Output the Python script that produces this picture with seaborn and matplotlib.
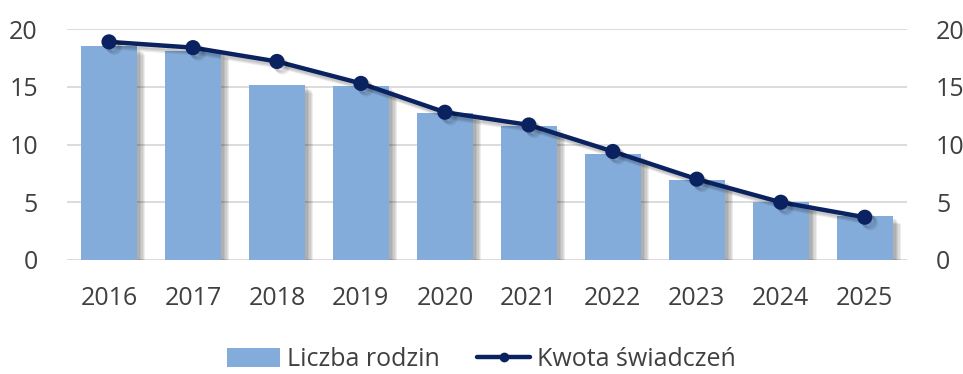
import matplotlib
matplotlib.use("Agg")
import matplotlib.pyplot as plt
import matplotlib.patheffects as pe
from matplotlib.patches import Patch
from matplotlib.lines import Line2D
import seaborn as sns
import pandas as pd

years = ["2016", "2017", "2018", "2019", "2020", "2021", "2022", "2023", "2024", "2025"]
liczba_rodzin = [18.5, 18.1, 15.2, 15.1, 12.7, 11.6, 9.2, 6.9, 5.0, 3.8]
kwota_swiadczen = [18.9, 18.4, 17.2, 15.3, 12.8, 11.7, 9.4, 7.0, 5.0, 3.7]
y_ticks = [0, 5, 10, 15, 20]

bar_color = "#84ACDB"
line_color = "#0B2260"
text_color = "#404040"

sns.set_theme(style="white")
plt.rcParams["font.family"] = ["Open Sans", "DejaVu Sans"]

df = pd.DataFrame({"rok": years, "rodziny": liczba_rodzin, "kwota": kwota_swiadczen})

fig = plt.figure(figsize=(9.63, 3.74), dpi=100)
ax = fig.add_axes([0.0696, 0.305, 0.872, 0.617])

# soft drop shadow built from a few translucent offset copies
shadow = [pe.SimplePatchShadow(offset=(o, -o), shadow_rgbFace="black", alpha=0.07)
          for o in (2, 3, 4, 5, 6)] + [pe.Normal()]

sns.barplot(data=df, x="rok", y="rodziny", color=bar_color, width=0.67,
            saturation=1, ax=ax, zorder=2)
for p in ax.patches:
    p.set_path_effects(shadow)
    p.set_edgecolor("none")

ax.set_ylim(0, 20)
ax.set_xlim(-0.5, 9.5)
ax.set_yticks(y_ticks)
ax.yaxis.grid(True, color="#D9D9D9", linewidth=1.3, zorder=0)
ax.set_axisbelow(True)
for s in ax.spines.values():
    s.set_visible(False)
ax.set_xlabel("")
ax.set_ylabel("")
ax.tick_params(axis="both", length=0, labelsize=18, colors=text_color)
ax.tick_params(axis="x", pad=19)
ax.tick_params(axis="y", pad=21)

ax2 = ax.twinx()
line_shadow = [pe.SimpleLineShadow(offset=(o, -o), shadow_color="black", alpha=0.08)
               for o in (2, 3, 4)] + [pe.Normal()]
sns.pointplot(data=df, x="rok", y="kwota", color=line_color, ax=ax2,
              markers="o", markersize=8.5, linewidth=3.2, zorder=3)
for ln in ax2.lines:
    ln.set_path_effects(line_shadow)
ax2.set_ylim(0, 20)
ax2.set_xlim(-0.5, 9.5)
ax2.set_yticks(y_ticks)
ax2.set_ylabel("")
ax2.set_xlabel("")
for s in ax2.spines.values():
    s.set_visible(False)
ax2.tick_params(axis="y", length=0, labelsize=18, colors=text_color, pad=21)
ax2.grid(False)

handles = [
    Patch(facecolor=bar_color, edgecolor="none", label="Liczba rodzin"),
    Line2D([0], [0], color=line_color, lw=3.2, marker="o", markersize=6,
           label="Kwota świadczeń"),
]
leg = fig.legend(handles=handles, loc="center", bbox_to_anchor=(0.5, 0.038), ncol=2,
                 frameon=False, fontsize=18, handlelength=2.1, handleheight=0.8,
                 handletextpad=0.3, columnspacing=1.5)
for t in leg.get_texts():
    t.set_color(text_color)

fig.savefig("out.png", dpi=100)
